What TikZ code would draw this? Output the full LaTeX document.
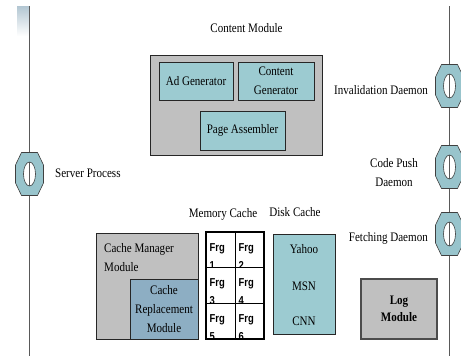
\documentclass[tikz,border=0pt]{standalone}
\usepackage{fontspec}
\setmainfont{Liberation Serif}[FakeStretch=0.85]
\newfontfamily\frgfont{Liberation Sans}[FakeStretch=0.82]
\definecolor{boxteal}{RGB}{156,203,209}
\definecolor{boxsteel}{RGB}{141,174,195}
\definecolor{boxgray}{RGB}{192,192,192}
\definecolor{ringteal}{RGB}{152,196,204}
\definecolor{fadeblue}{RGB}{178,198,210}
\tikzset{
  daemonring/.pic={
    \filldraw[fill=ringteal, draw=black!75, line width=0.6pt, even odd rule]
      (-14,-9) -- (-8,-21.5) -- (8,-21.5) -- (14,-9) -- (14,9) -- (8,21.5)
      -- (-8,21.5) -- (-14,9) -- cycle
      (0,0) ellipse [x radius=6pt, y radius=12pt];
  }
}
\begin{document}
\begin{tikzpicture}[x=1pt, y=-1pt, font=\fontsize{13}{19}\selectfont,
  box/.style={draw=black!85, line width=0.8pt, inner sep=0pt, align=center},
  graybox/.style={box, fill=boxgray},
  tealbox/.style={box, fill=boxteal},
  steelbox/.style={box, fill=boxsteel},
  spine/.style={draw=black!65, line width=0.9pt},
  frgtext/.style={inner sep=0pt, align=left,
    font=\frgfont\bfseries\fontsize{11.5}{18}\selectfont}]
\useasboundingbox (0,0) rectangle (461,356);

% process lines with their daemons
\shade[top color=fadeblue, bottom color=white] (17,6) rectangle (29,36);
\coordinate (ltop) at (29.5,6);
\coordinate (lbot) at (29.5,356);
\coordinate (rtop) at (449.5,6);
\coordinate (rbot) at (449.5,356);
\draw[spine] (ltop) -- (lbot);
\draw[spine] (rtop) -- (rbot);
\coordinate (server) at (29.5,174);
\coordinate (inval) at (449.5,86);
\coordinate (push) at (449.5,167);
\coordinate (fetch) at (449.5,234);
\foreach \d in {server,inval,push,fetch}
  \pic at (\d) {daemonring};
\node[anchor=west, inner sep=0pt] (serverlbl) at (55,173.5) {Server Process};
\node[anchor=east, inner sep=0pt] (invallbl) at (428,90.5) {Invalidation Daemon};
\node[inner sep=0pt, align=center] (pushlbl) at (394,173) {Code Push\\Daemon};
\node[anchor=east, inner sep=0pt] (fetchlbl) at (428,238.5) {Fetching Daemon};

% content module
\node[inner sep=0pt] (cmtitle) at (246.5,28.5) {Content Module};
\node[graybox, minimum width=172pt, minimum height=100pt] (cm) at (236,105) {};
\node[tealbox, minimum width=74pt, minimum height=38pt] (adgen) at (196,81) {Ad Generator};
\node[tealbox, minimum width=76pt, minimum height=38pt] (cgen) at (276,81) {Content\\Generator};
\node[tealbox, minimum width=85pt, minimum height=39pt] (pasm) at (242.5,130.5) {Page Assembler};

% cache manager
\node[graybox, minimum width=102pt, minimum height=106pt] (cmgr) at (147,286) {};
\node[anchor=west, inner sep=0pt, align=left] (cmgrlbl) at (104,258) {Cache Manager\\Module};
\node[steelbox, minimum width=68pt, minimum height=60pt] (crepl) at (164,309) {Cache\\Replacement\\Module};

% memory cache
\node[inner sep=0pt] (memlbl) at (223,214) {Memory Cache};
\foreach \c/\r/\n in {0/0/1,1/0/2,0/1/3,1/1/4,0/2/5,1/2/6}{
  \begin{scope}
    \clip (206+29*\c,232+35.67*\r) rectangle ++(29,35.67);
    \node[frgtext, anchor=north west] (frg\n) at (209.5+29*\c,243+35.67*\r) {Frg\\\n};
  \end{scope}
}
\node[draw, line width=1.6pt, minimum width=58pt, minimum height=107pt, inner sep=0pt] (memgrid) at (235,285.5) {};
\draw[line width=0.8pt] (memgrid.north) -- (memgrid.south);
\draw[line width=0.8pt] (206,267.67) -- (264,267.67);
\draw[line width=0.8pt] (206,303.33) -- (264,303.33);

% disk cache
\node[inner sep=0pt] (disklbl) at (295,212.5) {Disk Cache};
\node[tealbox, minimum width=62pt, minimum height=100pt] (disk) at (304,284) {};
\node[inner sep=0pt] (yahoo) at (304,249.5) {Yahoo};
\node[inner sep=0pt] (msn) at (304,286) {MSN};
\node[inner sep=0pt] (cnn) at (304,321) {CNN};

% log
\node[graybox, draw=black!70, line width=1.1pt, minimum width=76pt, minimum height=60pt,
  font=\bfseries\fontsize{13}{17}\selectfont] (log) at (399,309) {Log\\Module};
\end{tikzpicture}
\end{document}
